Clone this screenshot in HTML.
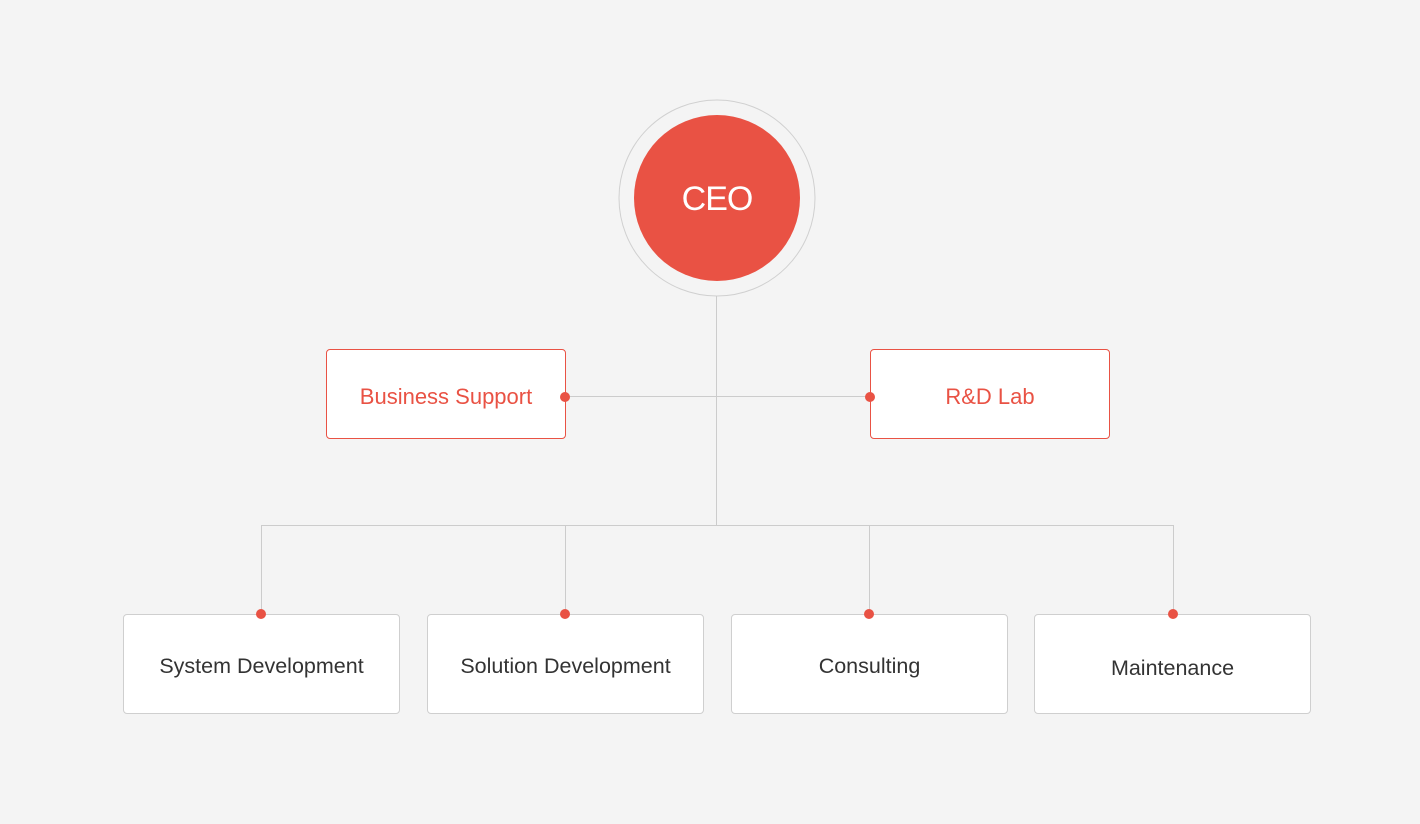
<!DOCTYPE html>
<html><head><style>
body{margin:0;width:1420px;height:824px;background:#f4f4f4;position:relative;overflow:hidden;font-family:"Liberation Sans",sans-serif}
.b{position:absolute;box-sizing:border-box;background:#fff;display:flex;align-items:center;justify-content:center;border-radius:4px}
.m{border:1px solid #e95244;color:#e95244;font-size:22px;height:90px;width:240px;top:349px;padding-top:5px}
.l{border:1px solid #cfcfcf;color:#333;font-size:21.5px;height:100px;width:277px;top:614px;padding-top:5px}
</style></head><body>
<svg width="1420" height="824" style="position:absolute;left:0;top:0">
<circle cx="717" cy="198" r="98" fill="none" stroke="#d0d0d0" stroke-width="1"/>
<circle cx="717" cy="198" r="83" fill="#e95244"/>
<g stroke="#cccccc" stroke-width="1" fill="none">
<line x1="716.5" y1="296" x2="716.5" y2="525"/>
<line x1="565" y1="396.5" x2="870" y2="396.5"/>
<line x1="261.5" y1="525.5" x2="1173.5" y2="525.5"/>
<line x1="261.5" y1="525" x2="261.5" y2="614"/>
<line x1="565.5" y1="525" x2="565.5" y2="614"/>
<line x1="869.5" y1="525" x2="869.5" y2="614"/>
<line x1="1173.5" y1="525" x2="1173.5" y2="614"/>
</g>
</svg>
<div style="position:absolute;left:634px;top:177px;width:166px;text-align:center;color:#fff;font-size:34px;line-height:44px;letter-spacing:-1px">CEO</div>
<div class="b m" style="left:326px">Business Support</div>
<div class="b m" style="left:870px">R&amp;D Lab</div>
<div class="b l" style="left:123px">System Development</div>
<div class="b l" style="left:427px">Solution Development</div>
<div class="b l" style="left:731px">Consulting</div>
<div class="b l" style="left:1034px;padding-top:9px">Maintenance</div>
<svg width="1420" height="824" style="position:absolute;left:0;top:0">
<g fill="#e95244">
<circle cx="565" cy="397" r="5"/><circle cx="870" cy="397" r="5"/>
<circle cx="261" cy="614" r="5"/><circle cx="565" cy="614" r="5"/>
<circle cx="869" cy="614" r="5"/><circle cx="1173" cy="614" r="5"/>
</g></svg>
</body></html>
